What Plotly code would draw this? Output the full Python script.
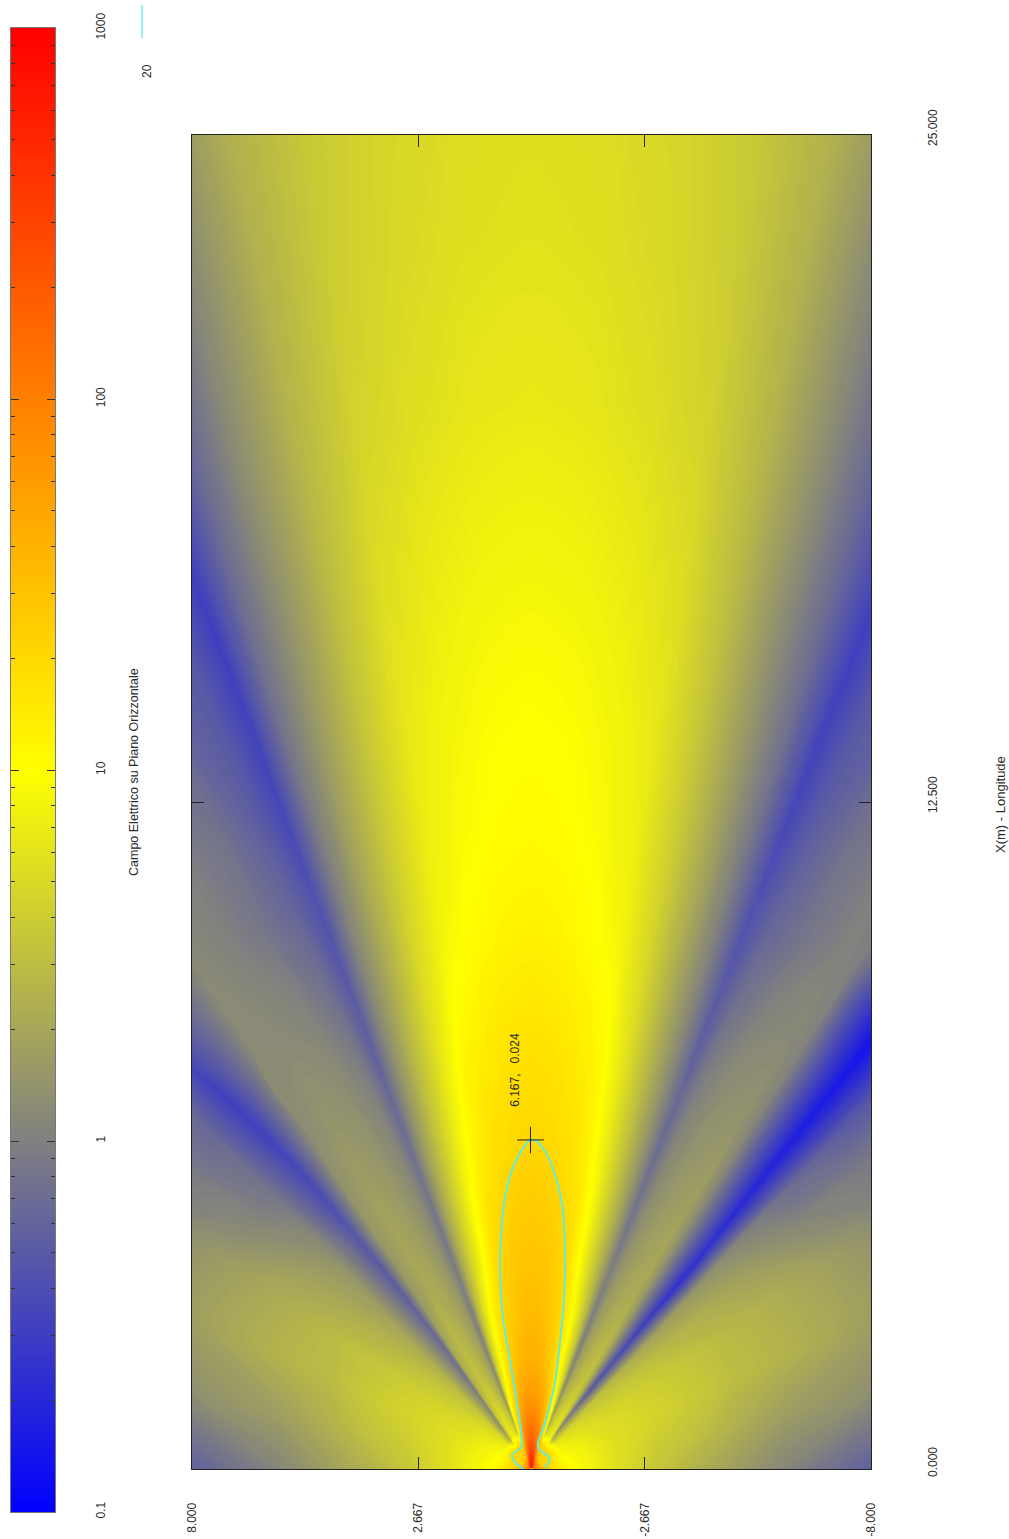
import math
import plotly.graph_objects as go

W, H = 1009, 1539

RANGE_M = [.03, .25, .5, .75, 1, 1.5, 2, 3, 4, 5, 6, 8, 10, 12, 14, 17, 20, 23, 27]
# Bearing (deg) of the rays; the outer blue band drifts with range, so it has its own lists.
BEARING_LEFT_OUTER = [90, 80, 70, 62, 55, 50]
BEARING_LEFT_INNER = [40, 36, 32, 28, 25.5, 23, 20, 16, 12, 8, 4, 0]
BEARING_RIGHT_INNER = [-4, -8, -12, -16, -20, -23.5, -26.5, -29, -33, -37, -39]
BEARING_RIGHT_OUTER = [-49, -54, -61, -70, -80, -90]
BAND_LEFT = [42, 42, 42, 42, 42, 42, 42, 42, 42.5, 43, 43.5, 44.5, 46, 47.5, 47.5, 47.5, 47.5, 47.5, 47.5]
BAND_RIGHT = [-40.5, -40.5, -40.5, -40.5, -40.5, -42, -43, -44, -44.5, -45, -45, -45, -45, -45, -45, -45, -45, -45, -45]

FIELD_LEFT = [
    [205, 210, 215, 220, 225, 230, 235, 240, 245, 250, 255, 260, 265, 270, 275, 280, 285, 288, 290],
    [165, 145, 135, 132, 135, 138, 140, 142, 145, 148, 155, 165, 180, 195, 218, 235, 248, 256, 260],
    [128, 122, 125, 131, 131, 130, 130, 130, 130, 130, 132, 135, 145, 160, 185, 205, 218, 226, 230],
    [112, 104, 98, 92, 86, 76, 35, 75, 88, 82, 70, 55, 115, 140, 172, 192, 202, 208, 210],
    [100, 96, 92, 86, 78, 68, 12, 62, 78, 70, 55, 30, 105, 129, 159, 177, 187, 193, 195],
    [87, 86, 82, 76, 68, 58, 5, 50, 64, 56, 40, 14, 80, 109, 140, 157, 167, 173, 175],
    [75, 76, 74, 70, 60, 50, -2, 42, 54, 46, 30, 8, 66, 95, 126, 144, 154, 160, 162],
    [54, 60, 66, 62, 52, 38, -15, 32, 44, 36, 22, 0, 50, 85, 116, 134, 144, 150, 152],
    [36, 50, 58, 55, 42, 30, -22, 20, 34, 30, 16, -3, 36, 67, 101, 128, 138, 144, 146],
    [20, 36, 46, 48, 35, 22, -28, 18, 30, 24, 12, -8, 30, 60, 95, 121, 131, 137, 139],
    [4, 24, 42, 40, 28, 15, -32, 18, 26, 20, 8, -10, 24, 54, 88, 114, 124, 130, 132],
    [-25, 12, 28, 24, 5, -8, -45, 10, 16, 12, 0, -20, 13, 43, 77, 104, 114, 120, 122],
    [-25, 0, 10, 5, -5, -20, -50, 8, 7, 3, -12, -30, 5, 33, 67, 92, 102, 108, 110],
    [-20, 0, 5, 5, 0, -5, -40, 7, 2, -8, -22, -38, -2, 28, 60, 85, 95, 101, 103],
    [-20, 0, 5, 5, 0, 0, -20, 5, 0, -10, -28, -45, -7, 22, 55, 81, 91, 97, 99],
    [-20, -5, 0, 0, -5, -10, -15, -15, -15, -20, -30, -50, -14, 13, 47, 73, 83, 89, 91],
    [-20, -5, 0, 0, -5, -10, -15, -15, -15, -20, -30, -50, -19, 10, 42, 64, 74, 80, 82],
    [-20, -5, 0, 0, -5, -10, -15, -15, -15, -20, -30, -45, -23, 5, 38, 59, 69, 75, 77],
    [-20, -5, 0, 0, -5, -10, -15, -15, -15, -20, -30, -45, -28, 3, 37, 55, 65, 71, 73],
]
FIELD_RIGHT = [
    [288, 285, 280, 275, 270, 265, 260, 255, 250, 245, 240, 235, 230, 225, 220, 215, 210, 205],
    [256, 248, 235, 218, 195, 180, 165, 155, 148, 145, 142, 140, 138, 135, 132, 135, 145, 165],
    [226, 218, 205, 185, 160, 145, 135, 132, 130, 130, 130, 130, 130, 131, 131, 125, 122, 128],
    [208, 202, 192, 172, 140, 115, 55, 70, 82, 88, 75, 35, 76, 86, 92, 98, 104, 112],
    [193, 187, 177, 159, 129, 100, 28, 55, 70, 78, 62, 10, 68, 78, 86, 92, 96, 100],
    [173, 167, 157, 140, 109, 78, 12, 40, 56, 64, 50, -10, 58, 68, 76, 82, 86, 87],
    [160, 154, 144, 126, 95, 64, 4, 30, 46, 54, 42, -30, 50, 60, 70, 74, 76, 75],
    [150, 144, 134, 116, 85, 48, -2, 22, 36, 44, 30, -40, 35, 52, 62, 66, 60, 54],
    [144, 138, 128, 101, 67, 34, -2, 16, 30, 34, 20, -52, 25, 42, 55, 58, 50, 36],
    [137, 131, 121, 95, 60, 28, -8, 12, 24, 30, 15, -62, 18, 35, 46, 48, 36, 20],
    [130, 124, 114, 88, 54, 22, -12, 8, 20, 26, 12, -62, 10, 26, 40, 42, 24, 4],
    [120, 114, 104, 77, 43, 11, -20, 0, 12, 16, 5, -72, -15, 3, 24, 28, 12, -25],
    [108, 102, 92, 67, 33, 3, -30, -12, 3, 7, 2, -80, -30, -5, 5, 10, 0, -25],
    [101, 95, 85, 60, 28, -4, -38, -22, -8, 2, 0, -85, -30, -5, 5, 5, 0, -20],
    [97, 91, 81, 55, 22, -9, -45, -28, -10, 0, 0, -30, -10, 0, 5, 5, 0, -20],
    [89, 83, 73, 47, 13, -16, -50, -30, -20, -15, -15, -15, -10, -5, 0, 0, -5, -20],
    [80, 74, 64, 42, 10, -21, -50, -30, -20, -15, -15, -15, -10, -5, 0, 0, -5, -20],
    [75, 69, 59, 38, 5, -25, -50, -30, -20, -15, -15, -15, -10, -5, 0, 0, -5, -20],
    [71, 65, 55, 37, 3, -30, -45, -30, -20, -15, -15, -15, -10, -5, 0, 0, -5, -20],
]

# Cyan iso-line at 20
CONTOUR_X = [0, .13, .26, .41, .67, 1.48, 2.23, 2.85, 3.73, 4.35, 5.1, 5.6, 5.92, 6.17,
             6.13, 5.85, 5.42, 4.91, 4.1, 3.22, 2.36, 1.6, .86, .48, .36, .2, .02]
CONTOUR_Y = [.2, .39, .46, .24, .24, .39, .55, .68, .74, .72, .62, .46, .27, .03,
             -.15, -.39, -.59, -.73, -.79, -.77, -.67, -.55, -.32, -.15, -.18, -.44, -.32]

CURSOR_X, CURSOR_Y = 6.167, 0.024

X_TICKS = [0, 12.5, 25]
X_TICK_TEXT = ["0.000", "12.500", "25.000"]
Y_TICKS = [8, 2.667, -2.667, -8]
Y_TICK_TEXT = ["8.000", "2.667", "-2.667", "-8.000"]

BAR_LEVELS = [-1, 0, 1, 2, 3]
BAR_TEXT = ["0.1", "1", "10", "100", "1000"]
BAR_MINOR = [-.699, -.523, -.398, -.301, -.222, -.155, -.097, -.046,
             .301, .477, .602, .699, .778, .845, .903, .954,
             1.301, 1.477, 1.602, 1.699, 1.778, 1.845, 1.903, 1.954,
             2.301, 2.477, 2.602, 2.699, 2.778, 2.845, 2.903, 2.954]

COLORS = [[0, "rgb(0,0,255)"], [.25, "rgb(128,128,128)"], [.5, "rgb(255,255,0)"],
          [.75, "rgb(255,128,0)"], [1, "rgb(255,0,0)"]]

FONT = "Liberation Sans, Arial, sans-serif"
INK = "#2a2a2a"


def fx(p):
    return p / W


def fy(p):
    return 1 - p / H


# Each row of the table becomes one ring of the carpet: bearing + range -> plot position.
bearings = [BEARING_LEFT_OUTER + [bl] + BEARING_LEFT_INNER + BEARING_RIGHT_INNER + [br] + BEARING_RIGHT_OUTER
            for bl, br in zip(BAND_LEFT, BAND_RIGHT)]
node_y = [[r * math.sin(math.radians(t)) for t in row] for r, row in zip(RANGE_M, bearings)]
node_x = [[r * math.cos(math.radians(t)) for t in row] for r, row in zip(RANGE_M, bearings)]
z = [[v / 100 for v in (a + b)] for a, b in zip(FIELD_LEFT, FIELD_RIGHT)]
a_index = list(range(len(z[0])))
b_index = list(range(len(z)))

hidden = dict(showgrid=False, minorgridcount=0, showticklabels="none", startline=False, endline=False,
              showline=False, smoothing=0, cheatertype="index")

fig = go.Figure()
fig.add_trace(go.Carpet(a=a_index, b=b_index, x=node_y, y=node_x, carpet="field",
                        aaxis=hidden, baxis=hidden, xaxis="x", yaxis="y"))
fig.add_trace(go.Contourcarpet(a=a_index, b=b_index, z=z, carpet="field", colorscale=COLORS,
                               zmin=-1, zmax=3, autocontour=False, showscale=False,
                               contours=dict(coloring="fill", start=-1, end=3, size=0.015, showlines=False),
                               line=dict(width=0), xaxis="x", yaxis="y"))
fig.add_trace(go.Scatter(x=CONTOUR_Y, y=CONTOUR_X, mode="lines", hoverinfo="skip",
                         line=dict(color="rgb(100,235,225)", width=2, shape="spline", smoothing=0.6),
                         xaxis="x", yaxis="y", showlegend=False))
fig.add_trace(go.Scatter(x=[CURSOR_Y], y=[CURSOR_X], mode="markers", hoverinfo="skip",
                         marker=dict(symbol="cross-thin", size=19, line=dict(color="#222", width=1)),
                         xaxis="x", yaxis="y", showlegend=False))
fig.add_trace(go.Heatmap(x=[0, 1], y=BAR_LEVELS, z=[[v, v] for v in BAR_LEVELS], zmin=-1, zmax=3,
                         colorscale=COLORS, zsmooth="best", showscale=False, hoverinfo="skip",
                         xaxis="x2", yaxis="y2"))

tick_font = dict(family=FONT, size=12, color=INK)
centre = dict(showarrow=False, xanchor="center", yanchor="middle")
annotations = [
    dict(text="Campo Elettrico su Piano Orizzontale", textangle=-90, xref="paper", yref="paper",
         x=fx(134), y=fy(772), font=dict(family=FONT, size=12.5, color=INK), **centre),
    dict(text="X(m) - Longitude", textangle=-90, xref="paper", yref="paper",
         x=fx(1000), y=fy(805), font=dict(family=FONT, size=13, color=INK), **centre),
    dict(text="20", textangle=-90, xref="paper", yref="paper",
         x=fx(147), y=fy(71), font=tick_font, **centre),
    dict(text="6.167,   0.024", textangle=-90, xref="x", yref="y",
         x=0.39, y=7.48, font=tick_font, **centre),
]
for val, txt in zip(X_TICKS, X_TICK_TEXT):
    annotations.append(dict(text=txt, textangle=-90, xref="paper", yref="y", x=fx(933), y=val, yshift=7,
                            font=tick_font, **centre))

fig.update_layout(
    width=W, height=H, margin=dict(l=0, r=0, t=0, b=0, autoexpand=False), autosize=False,
    paper_bgcolor="white", plot_bgcolor="white", showlegend=False,
    xaxis=dict(domain=[fx(192), fx(871)], range=[8, -8], tickvals=Y_TICKS, ticktext=Y_TICK_TEXT,
               tickangle=-90, ticks="inside", ticklen=12, tickcolor="#222", tickwidth=1,
               showline=True, linecolor="#222", linewidth=1, mirror="ticks", showgrid=False,
               zeroline=False, tickfont=tick_font, ticklabelstandoff=28, anchor="y", layer="above traces"),
    yaxis=dict(domain=[fy(1469), fy(135)], range=[0, 25], tickvals=X_TICKS, showticklabels=False,
               side="right", ticks="inside", ticklen=12, tickcolor="#222", tickwidth=1,
               showline=True, linecolor="#222", linewidth=1, mirror="ticks", showgrid=False,
               zeroline=False, anchor="x", layer="above traces"),
    xaxis2=dict(domain=[fx(11), fx(55)], range=[0, 1], showticklabels=False, ticks="",
                showgrid=False, zeroline=False, showline=True, linecolor="#777", mirror=True,
                anchor="y2"),
    yaxis2=dict(domain=[fy(1512), fy(28)], range=[-1, 3], tickvals=BAR_LEVELS, ticktext=BAR_TEXT,
                side="right", tickangle=-90, ticks="inside", ticklen=8, tickcolor="#333", tickwidth=1,
                showline=True, linecolor="#777", mirror="ticks", showgrid=False, zeroline=False,
                tickfont=tick_font, ticklabelstandoff=35, anchor="x2",
                minor=dict(tickvals=BAR_MINOR, ticks="inside", ticklen=4, tickcolor="#333", tickwidth=1)),
    annotations=annotations,
    shapes=[dict(type="line", xref="paper", yref="paper", x0=fx(142), x1=fx(142), y0=fy(5), y1=fy(38),
                 line=dict(color="rgb(150,240,240)", width=2))],
)

fig.write_html("out.html", config=dict(displayModeBar=False),
               post_script="document.body.style.margin='0';document.body.style.overflow='hidden';")
